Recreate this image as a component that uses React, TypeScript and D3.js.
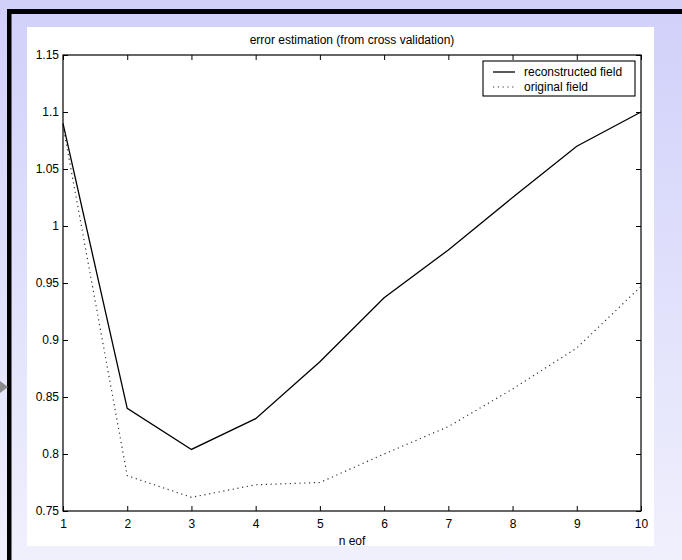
import React, { useEffect, useRef } from "react";
import * as d3 from "d3";

// n eof
const nEof = [1, 2, 3, 4, 5, 6, 7, 8, 9, 10];
// error from cross validation
const reconstructed = [1.09, 0.84, 0.804, 0.831, 0.881, 0.937, 0.979, 1.025, 1.07, 1.1];
const original = [1.088, 0.781, 0.762, 0.773, 0.775, 0.8, 0.824, 0.857, 0.893, 0.947];
const yTicks = [0.75, 0.8, 0.85, 0.9, 0.95, 1, 1.05, 1.1, 1.15];
const xTicks = [1, 2, 3, 4, 5, 6, 7, 8, 9, 10];
const legendLabels = ["reconstructed field", "original field"];

const W = 682;
const H = 560;
const plot = { left: 63, top: 55, right: 641, bottom: 511 };
const FONT = "Liberation Sans, Arial, sans-serif";

export default function App() {
  const svgRef = useRef<SVGSVGElement>(null);

  useEffect(() => {
    const svg = d3.select(svgRef.current);
    const g = svg.select(".chart");
    g.selectAll("*").remove();

    const x = d3.scaleLinear().domain([1, 10]).range([plot.left, plot.right]);
    const y = d3.scaleLinear().domain([0.75, 1.15]).range([plot.bottom, plot.top]);

    const fmt = (d: number) => String(+d.toFixed(2));

    // axes, ticks point inward like matlab
    g.append("g")
      .attr("transform", `translate(0,${plot.bottom})`)
      .call(d3.axisBottom(x).tickValues(xTicks).tickSize(-5).tickSizeOuter(0).tickPadding(8).tickFormat((d) => fmt(+d)));
    g.append("g")
      .attr("transform", `translate(0,${plot.top})`)
      .call(d3.axisTop(x).tickValues(xTicks).tickSize(-5).tickSizeOuter(0).tickFormat(() => ""));
    g.append("g")
      .attr("transform", `translate(${plot.left},0)`)
      .call(d3.axisLeft(y).tickValues(yTicks).tickSize(-5).tickSizeOuter(0).tickPadding(4).tickFormat((d) => fmt(+d)));
    g.append("g")
      .attr("transform", `translate(${plot.right},0)`)
      .call(d3.axisRight(y).tickValues(yTicks).tickSize(-5).tickSizeOuter(0).tickFormat(() => ""));

    g.selectAll(".domain").remove();
    g.selectAll(".tick line").attr("stroke", "#000");
    g.selectAll(".tick text")
      .attr("fill", "#000")
      .attr("font-size", 12)
      .attr("font-family", FONT);

    g.append("rect")
      .attr("x", plot.left)
      .attr("y", plot.top)
      .attr("width", plot.right - plot.left)
      .attr("height", plot.bottom - plot.top)
      .attr("fill", "none")
      .attr("stroke", "#000")
      .attr("stroke-width", 1.2);

    const line = d3
      .line<number>()
      .x((d, i) => x(nEof[i]))
      .y((d) => y(d));

    g.append("path")
      .datum(original)
      .attr("d", line)
      .attr("fill", "none")
      .attr("stroke", "#333")
      .attr("stroke-width", 1.2)
      .attr("stroke-dasharray", "1.2,3.6");

    g.append("path")
      .datum(reconstructed)
      .attr("d", line)
      .attr("fill", "none")
      .attr("stroke", "#000")
      .attr("stroke-width", 1.3);

    // legend
    const lg = g.append("g");
    lg.append("rect")
      .attr("x", 483)
      .attr("y", 61)
      .attr("width", 152)
      .attr("height", 35)
      .attr("fill", "#fff")
      .attr("stroke", "#000")
      .attr("stroke-width", 1.1);
    legendLabels.forEach((label, i) => {
      const ly = 72 + i * 15;
      lg.append("line")
        .attr("x1", 493)
        .attr("x2", 515)
        .attr("y1", ly)
        .attr("y2", ly)
        .attr("stroke", i === 0 ? "#000" : "#333")
        .attr("stroke-width", i === 0 ? 1.3 : 1.2)
        .attr("stroke-dasharray", i === 0 ? null : "1.2,3.6");
      lg.append("text")
        .attr("x", 524)
        .attr("y", ly + 4)
        .attr("font-size", 12)
        .attr("font-family", FONT)
        .text(label);
    });
  }, []);

  return (
    <div style={{ position: "fixed", left: 0, top: 0 }}>
      <svg ref={svgRef} width={W} height={H} style={{ display: "block" }}>
        <defs>
          <linearGradient id="bg" x1="0" y1="0" x2="0" y2="1">
            <stop offset="0" stopColor="#d0d0fa" />
            <stop offset="1" stopColor="#f0f0fd" />
          </linearGradient>
        </defs>
        <rect x={0} y={0} width={W} height={H} fill="url(#bg)" />
        <rect x={7} y={9} width={W - 7} height={5} fill="#000" />
        <rect x={7} y={9} width={4.5} height={H - 9} fill="#000" />
        <polygon points="0,381 8,387 0,393" fill="#8a8a8a" />
        <rect x={27} y={27} width={627} height={519} fill="#fff" />
        <text x={352} y={44} textAnchor="middle" fontSize={12} fontFamily={FONT}>
          error estimation (from cross validation)
        </text>
        <text x={352} y={545} textAnchor="middle" fontSize={12} fontFamily={FONT}>
          n eof
        </text>
        <g className="chart" />
      </svg>
    </div>
  );
}
